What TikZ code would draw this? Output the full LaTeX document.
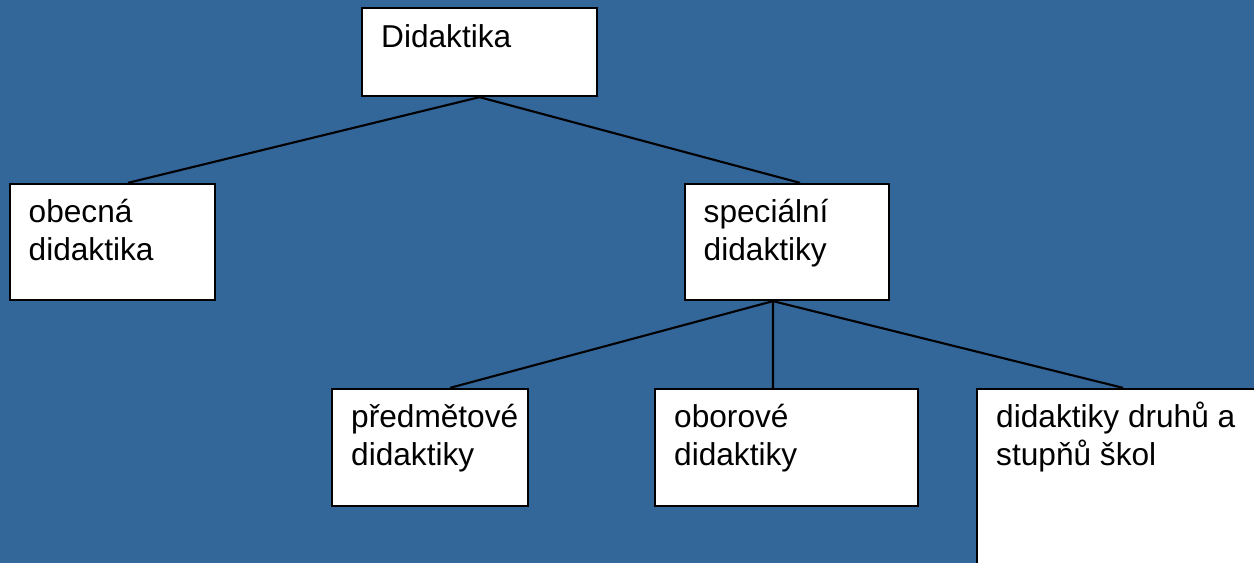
\documentclass[tikz,border=0pt]{standalone}
\usepackage{fontspec}
\setmainfont{Liberation Sans}
\usetikzlibrary{positioning}
\definecolor{slideblue}{RGB}{51,102,153}

\tikzset{
  box/.style={rectangle, draw, fill=white, line width=1.3pt,
              inner sep=0pt},
  lbl/.style={anchor=base west, align=left, inner sep=0pt,
              font=\fontsize{18}{21.6}\selectfont},
  link/.style={line width=1.2pt}
}

\begin{document}
\begin{tikzpicture}

    \fill[slideblue] (0,0) rectangle (25.08,-11.26);
    \clip (0,0) rectangle (25.08,-11.26);

    \node[box,
          minimum width = 4.7cm,
          minimum height = 1.76cm
          ] (did) at (9.59,-1.04) {};
    \node[lbl] at ([shift={(0.4,-0.82)}]did.north west) {Didaktika};

    % two-line labels: base is the second line
    \node[box,
          minimum width = 4.1cm,
          minimum height = 2.32cm
          ] (obec) at (2.25,-4.84) {};
    \node[lbl] at ([shift={(0.39,-1.56)}]obec.north west) {obecná\\didaktika};

    \node[box,
          minimum width = 4.08cm,
          minimum height = 2.32cm
          ] (spec) at (15.74,-4.84) {};
    \node[lbl] at ([shift={(0.39,-1.56)}]spec.north west) {speciální\\didaktiky};

    \node[box,
          minimum width = 3.92cm,
          minimum height = 2.34cm
          ] (pred) at (8.6,-8.95) {};
    \node[lbl] at ([shift={(0.4,-1.56)}]pred.north west) {předmětové\\didaktiky};

    \node[box,
          minimum width = 5.26cm,
          minimum height = 2.34cm
          ] (obor) at (15.73,-8.95) {};
    \node[lbl] at ([shift={(0.4,-1.56)}]obor.north west) {oborové\\didaktiky};

    % runs past the right and bottom edge
    \node[box,
          minimum width = 6.06cm,
          minimum height = 4.22cm
          ] (druh) at (22.57,-9.89) {};
    \node[lbl] at ([shift={(0.4,-1.56)}]druh.north west) {didaktiky druhů a\\stupňů škol};

    \path[link]
    (did.south) edge [] ([xshift=0.31cm]obec.north)
    (did.south) edge [] ([xshift=0.26cm]spec.north)
    ([xshift=-0.28cm]spec.south) edge [] ([xshift=0.4cm]pred.north)
    ([xshift=-0.28cm]spec.south) edge [] ([xshift=-0.27cm]obor.north)
    ([xshift=-0.28cm]spec.south) edge [] ([xshift=-0.11cm]druh.north);

\end{tikzpicture}
\end{document}
